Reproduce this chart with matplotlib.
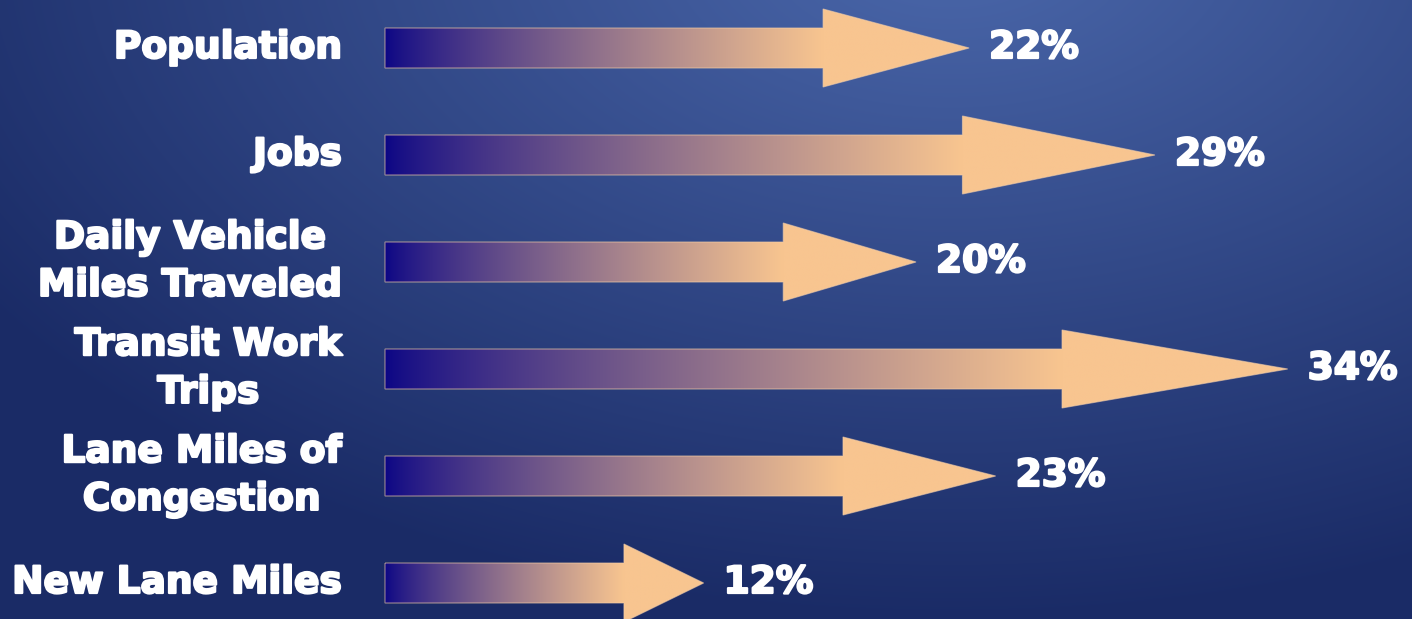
import numpy as np
import matplotlib
matplotlib.use("Agg")
import matplotlib.pyplot as plt
from matplotlib.patches import Polygon
from matplotlib.colors import to_rgb
import matplotlib.patheffects as pe

categories = ["Population", "Jobs", "Daily Vehicle\nMiles Traveled",
              "Transit Work\nTrips", "Lane Miles of\nCongestion", "New Lane Miles"]
values = [22, 29, 20, 34, 23, 12]
value_labels = ["22%", "29%", "20%", "34%", "23%", "12%"]

W, H = 1412, 619
fig = plt.figure(figsize=(W / 100, H / 100), dpi=100)

# background gradient
bg = fig.add_axes([0, 0, 1, 1])
bg.set_axis_off()
yy, xx = np.mgrid[0:H, 0:W]
d = np.sqrt(((xx - 950) / 1150.0) ** 2 + ((yy + 60) / 680.0) ** 2)
d = np.clip(d, 0, 1)
light = np.array(to_rgb("#4b68ab"))
dark = np.array(to_rgb("#1a2b66"))
img = light[None, None, :] * (1 - d[..., None]) + dark[None, None, :] * d[..., None]
bg.imshow(img, extent=[0, W, H, 0], aspect="auto", interpolation="bilinear")
bg.set_xlim(0, W)
bg.set_ylim(H, 0)

ax = fig.add_axes([0, 0, 1, 1])
ax.set_axis_off()
ax.patch.set_alpha(0)
px_per_unit = 26.55
x0_px = 385
row0, row_step = 48, 107
ax.set_xlim(-x0_px / px_per_unit, (W - x0_px) / px_per_unit)
ax.set_ylim((H - row0) / row_step, -row0 / row_step)

navy = np.array(to_rgb("#0c0685"))
peach = np.array(to_rgb("#f8c590"))
shaft_h = 20 / row_step
head_h = 39 / row_step

stroke = [pe.withStroke(linewidth=1.6, foreground="white")]
font = dict(family="DejaVu Sans", weight="bold", color="white", fontsize=27,
            path_effects=stroke)

for i, (cat, v, lab) in enumerate(zip(categories, values, value_labels)):
    head_len = 0.25 * v
    hx = v - head_len
    poly = Polygon([(0, i - shaft_h), (hx, i - shaft_h), (hx, i - head_h), (v, i),
                    (hx, i + head_h), (hx, i + shaft_h), (0, i + shaft_h)],
                   closed=True, facecolor="none", edgecolor="#f6cfa8",
                   linewidth=0.8, alpha=0.6, zorder=3)
    ax.add_patch(poly)
    t = np.linspace(0, 1, 400)
    tp = np.clip(t / 0.75, 0, 1) ** 0.8
    grad = navy[None, :] * (1 - tp[:, None]) + peach[None, :] * tp[:, None]
    im = ax.imshow(grad[None, :, :], extent=[0, v, i + head_h, i - head_h],
                   aspect="auto", interpolation="bilinear", zorder=2)
    im.set_clip_path(poly)
    ax.text(-43 / px_per_unit, i, cat, ha="right", va="center",
            multialignment="center", linespacing=1.42, **font)
    ax.text(v + 20 / px_per_unit, i, lab, ha="left", va="center", **font)

fig.savefig("out.png", dpi=100)
